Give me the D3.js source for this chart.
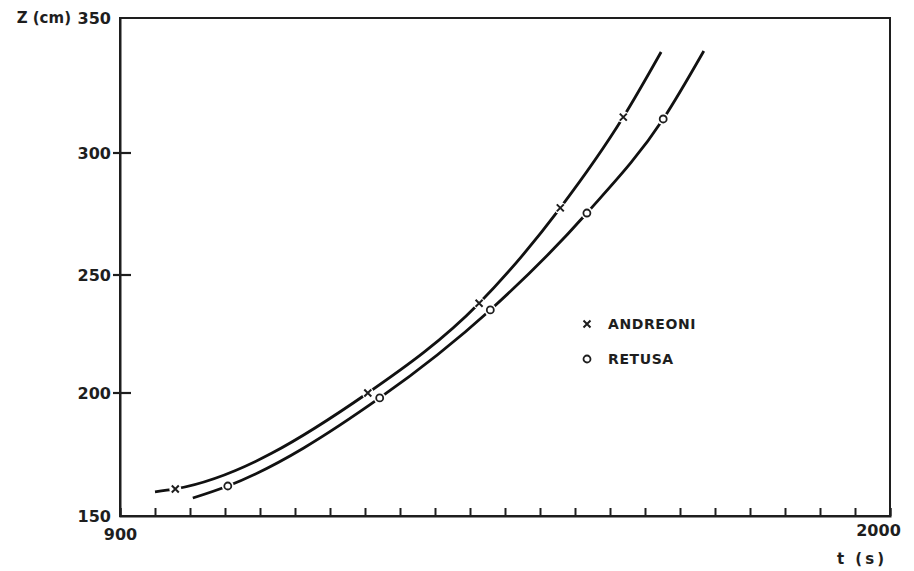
<!DOCTYPE html>
<html>
<head>
<meta charset="utf-8">
<script src="https://cdn.jsdelivr.net/npm/d3@7"></script>
<style>
  body { margin: 0; background: #fff; }
  text { font-family: "DejaVu Sans", sans-serif; fill: #1e1e1e; }
</style>
</head>
<body>
<div class="canvas"></div>
<script>
// data
const andreoniT = [979, 1254, 1413, 1529, 1619];
const andreoniZ = [161, 200, 238, 277.5, 313.3];
const retusaT = [1054, 1271, 1429, 1567, 1676];
const retusaZ = [162.2, 198, 235.2, 275.4, 312.6];

// where the drawn curves begin and end
const andreoniEnds = [[950, 159.8], [1673, 337.4]];
const retusaEnds = [[1004, 157.3], [1734, 337.8]];

const yTicks = [150, 200, 250, 300, 350];
const xTicks = d3.range(900, 2001, 50);
const legendNames = ['ANDREONI', 'RETUSA'];

const svg = d3.select('.canvas')
  .append('svg')
    .attr('width', 914)
    .attr('height', 571);

const margin = {top: 18, right: 24, bottom: 55, left: 120};
const graphWidth = 914 - margin.left - margin.right;
const graphHeight = 571 - margin.top - margin.bottom;

const graph = svg.append('g')
  .attr('transform', `translate(${margin.left}, ${margin.top})`);

// scales (y follows the slightly uneven spacing of the printed axis)
const x = d3.scaleLinear()
  .domain([900, 2000])
  .range([0, graphWidth]);

const y = d3.scaleLinear()
  .domain(yTicks)
  .range([graphHeight, 375, 257, 135, 0]);

// frame
graph.append('rect')
  .attr('width', graphWidth)
  .attr('height', graphHeight)
  .attr('fill', 'none')
  .attr('stroke', '#1e1e1e')
  .attr('stroke-width', 2);

// axes
const xAxis = d3.axisBottom(x)
  .tickValues(xTicks)
  .tickSize(-8)
  .tickFormat(d => (d === 900 || d === 2000) ? d : '');

const yAxis = d3.axisLeft(y)
  .tickValues(yTicks)
  .tickSize(0)
  .tickFormat(d => d);

const xAxisGroup = graph.append('g')
  .attr('transform', `translate(0, ${graphHeight})`)
  .call(xAxis);

const yAxisGroup = graph.append('g').call(yAxis);

[xAxisGroup, yAxisGroup].forEach(g => {
  g.select('.domain').attr('stroke', '#1e1e1e').attr('stroke-width', 2);
  g.selectAll('line').attr('stroke', '#1e1e1e').attr('stroke-width', 2);
  g.selectAll('text')
    .attr('font-size', 16)
    .attr('font-weight', 'bold')
    .attr('font-family', '"DejaVu Sans", sans-serif')
    .attr('fill', '#1e1e1e');
});

// inner y ticks, crossing the axis a little as printed
graph.selectAll('.ytick')
  .data(yTicks.filter(d => d !== 150 && d !== 350))
  .enter()
  .append('line')
    .attr('class', 'ytick')
    .attr('x1', -7)
    .attr('x2', 11)
    .attr('y1', d => y(d))
    .attr('y2', d => y(d))
    .attr('stroke', '#1e1e1e')
    .attr('stroke-width', 2.2);

xAxisGroup.selectAll('text').attr('dy', '1.3em');
xAxisGroup.selectAll('text').filter(d => d === 2000).attr('dx', -12).attr('dy', '1.05em');
yAxisGroup.selectAll('text').attr('x', -9);

// axis titles
graph.append('text')
  .attr('x', -49)
  .attr('y', 0)
  .attr('dy', '0.35em')
  .attr('text-anchor', 'end')
  .attr('font-size', 15)
  .attr('font-weight', 'bold')
  .text('Z (cm)');

graph.append('text')
  .attr('x', graphWidth - 3)
  .attr('y', graphHeight + 48)
  .attr('text-anchor', 'end')
  .attr('font-size', 15)
  .attr('font-weight', 'bold')
  .attr('letter-spacing', 3)
  .text('t (s)');

// curves
const line = d3.line()
  .x(d => x(d[0]))
  .y(d => y(d[1]))
  .curve(d3.curveMonotoneX);

const series = [
  {name: legendNames[0], t: andreoniT, z: andreoniZ, ends: andreoniEnds, mark: 'x'},
  {name: legendNames[1], t: retusaT, z: retusaZ, ends: retusaEnds, mark: 'o'}
];

series.forEach(s => {
  const pts = [s.ends[0], ...s.t.map((t, i) => [t, s.z[i]]), s.ends[1]];
  graph.append('path')
    .datum(pts)
    .attr('d', line)
    .attr('fill', 'none')
    .attr('stroke', '#111')
    .attr('stroke-width', 2.8);
});

// gaps in the lines around the markers
series.forEach(s => {
  graph.selectAll(null)
    .data(s.t.map((t, i) => [t, s.z[i]]))
    .enter()
    .append('circle')
      .attr('cx', d => x(d[0]))
      .attr('cy', d => y(d[1]))
      .attr('r', 6)
      .attr('fill', '#fff');
});

const drawMark = (g, type, cx, cy) => {
  if (type === 'x') {
    g.append('path')
      .attr('d', `M${cx - 3.5},${cy - 3.5}L${cx + 3.5},${cy + 3.5}M${cx + 3.5},${cy - 3.5}L${cx - 3.5},${cy + 3.5}`)
      .attr('stroke', '#1e1e1e')
      .attr('stroke-width', 2);
  } else {
    g.append('circle')
      .attr('cx', cx)
      .attr('cy', cy)
      .attr('r', 3.5)
      .attr('fill', 'none')
      .attr('stroke', '#1e1e1e')
      .attr('stroke-width', 1.8);
  }
};

series.forEach(s => {
  s.t.forEach((t, i) => drawMark(graph, s.mark, x(t), y(s.z[i])));
});

// legend
const legend = graph.append('g')
  .attr('transform', `translate(${587 - margin.left}, ${324 - margin.top})`);

series.forEach((s, i) => {
  drawMark(legend, s.mark, 0, i * 35);
  legend.append('text')
    .attr('x', 21)
    .attr('y', i * 35)
    .attr('dy', '0.35em')
    .attr('font-size', 14)
    .attr('font-weight', 'bold')
    .attr('letter-spacing', 0.6)
    .text(s.name);
});
</script>
</body>
</html>
